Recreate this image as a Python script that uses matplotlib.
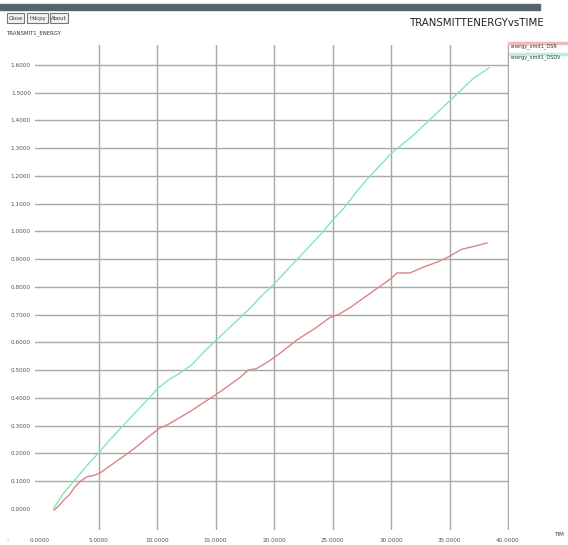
import matplotlib
matplotlib.use("Agg")
import matplotlib.pyplot as plt
from matplotlib.patches import Rectangle

plt.rcParams['font.family'] = ['DejaVu Sans']
plt.rcParams['font.stretch'] = 'condensed'

# data
time_dsdv = [1.15, 2.0, 3.0, 4.0, 5.1, 6.0, 7.0, 8.0, 9.0, 10.1, 11.0, 12.0, 13.0,
             14.0, 15.0, 16.0, 17.0, 18.0, 19.0, 20.0, 21.0, 22.0, 23.0, 24.0,
             25.0, 26.0, 27.0, 28.0, 29.0, 30.0, 31.0, 32.0, 33.0, 34.0, 35.0,
             36.0, 37.0, 38.4]
energy_dsdv = [0.0, 0.055, 0.105, 0.155, 0.205, 0.25, 0.295, 0.34, 0.385, 0.435,
               0.465, 0.49, 0.52, 0.565, 0.605, 0.645, 0.685, 0.725, 0.77, 0.81,
               0.855, 0.9, 0.945, 0.99, 1.04, 1.085, 1.14, 1.19, 1.235, 1.28,
               1.315, 1.35, 1.39, 1.43, 1.47, 1.51, 1.55, 1.59]

time_dsr = [1.2, 1.6, 2.0, 2.5, 3.0, 3.5, 4.0, 4.6, 5.1, 6.0, 7.0, 8.0, 9.0, 10.2,
            11.0, 12.0, 13.0, 13.7, 15.0, 16.0, 17.0, 17.8, 18.5, 19.5, 20.5,
            22.0, 23.5, 24.8, 25.5, 26.5, 27.0, 28.0, 29.0, 30.0, 30.5, 31.6,
            33.0, 34.0, 35.0, 36.0, 37.0, 38.2]
energy_dsr = [-0.005, 0.01, 0.03, 0.05, 0.08, 0.1, 0.115, 0.12, 0.128, 0.155, 0.185,
              0.215, 0.25, 0.29, 0.305, 0.33, 0.355, 0.375, 0.41, 0.44, 0.47, 0.5,
              0.505, 0.53, 0.56, 0.61, 0.65, 0.69, 0.7, 0.725, 0.74, 0.77, 0.8,
              0.83, 0.85, 0.85, 0.875, 0.89, 0.91, 0.935, 0.945, 0.958]

x_ticks = [0, 5, 10, 15, 20, 25, 30, 35, 40]
y_ticks = [0.0, 0.1, 0.2, 0.3, 0.4, 0.5, 0.6, 0.7, 0.8, 0.9, 1.0, 1.1, 1.2, 1.3,
           1.4, 1.5, 1.6]
series_names = ["energy_xmit1_DSR", "energy_xmit1_DSDV"]

W, H = 568, 545
fig = plt.figure(figsize=(W / 100, H / 100), dpi=100)

# overlay in pixel coordinates for the window decorations
deco = fig.add_axes([0, 0, 1, 1])
deco.set_xlim(0, W)
deco.set_ylim(H, 0)
deco.axis("off")

# plot area (pixels 35..509 across, 45..530 down)
ax = fig.add_axes([35 / W, 1 - 530 / H, 474 / W, 485 / H])
ax.set_xlim(-0.43, 40.085)
ax.set_ylim(-0.0768, 1.672)
for s in ax.spines.values():
    s.set_visible(False)

ax.set_xticks(x_ticks)
ax.set_xticklabels([f"{v:.4f}" for v in x_ticks])
ax.set_yticks(y_ticks)
ax.set_yticklabels([f"{v:.4f}" for v in y_ticks])
ax.tick_params(axis="both", length=0, labelsize=4.6, labelcolor="#555555")
ax.tick_params(axis="x", pad=6)
ax.tick_params(axis="y", pad=3)

ax.grid(True, color="#a8a8a8", linewidth=1.0)
ax.xaxis.get_gridlines()[0].set_visible(False)
ax.yaxis.get_gridlines()[0].set_visible(False)

ax.plot(time_dsr, energy_dsr, color="#d98585", linewidth=1.0, label=series_names[0])
ax.plot(time_dsdv, energy_dsdv, color="#7fe6bd", linewidth=1.0, label=series_names[1])

# window bar and buttons
deco.add_patch(Rectangle((0, 4), 540, 6, color="#56646e"))
for x0, w, txt in [(7, 17, "Close"), (27, 21, "Hdcpy"), (50, 18, "About")]:
    deco.add_patch(Rectangle((x0, 13), w, 10, facecolor="#f2f2f2",
                             edgecolor="#777777", linewidth=0.8))
    deco.text(x0 + w / 2, 18.5, txt, ha="center", va="center", fontsize=4.2,
              color="#333333")
deco.text(6, 33, "TRANSMIT1_ENERGY", ha="left", va="center", fontsize=4.3,
          color="#333333")

deco.text(476, 23, "TRANSMITTENERGYvsTIME", ha="center", va="center",
          fontsize=8.2, color="#222222")

# legend on the right
deco.plot([509, 568], [43, 43], color="#f2b8b8", linewidth=2.5)
deco.text(511, 46.5, series_names[0], ha="left", va="center", fontsize=4.0,
          color="#333333")
deco.plot([509, 568], [54, 54], color="#b8f0d8", linewidth=2.5)
deco.text(511, 57.5, series_names[1], ha="left", va="center", fontsize=4.0,
          color="#333333")

deco.text(555, 535, "TIM", ha="left", va="center", fontsize=4.5, color="#333333")
deco.text(7, 538, ".", ha="center", va="center", fontsize=6, color="#333333")

fig.savefig("out.png", dpi=100)
